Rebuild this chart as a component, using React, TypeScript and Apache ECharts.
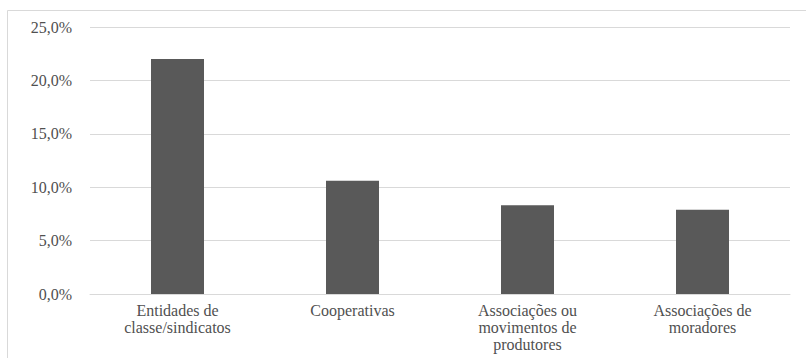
import React, { useEffect, useRef } from "react";
import * as echarts from "echarts";

const categories = [
  "Entidades de\nclasse/sindicatos",
  "Cooperativas",
  "Associações ou\nmovimentos de\nprodutores",
  "Associações de\nmoradores",
];
const values = [22.0, 10.6, 8.3, 7.9];
const yTicks = { min: 0, max: 25, interval: 5 };

export default function App() {
  const ref = useRef<HTMLDivElement>(null);
  useEffect(() => {
    const chart = echarts.init(ref.current!, null, { renderer: "svg" });
    const font = "Liberation Serif, Times New Roman, serif";
    chart.setOption({
      animation: false,
      backgroundColor: "#ffffff",
      textStyle: { fontFamily: font },
      graphic: [
        {
          type: "rect",
          shape: { x: 7.5, y: 10.5, width: 830, height: 400 },
          style: { fill: "none", stroke: "#d9d9d9", lineWidth: 1 },
          silent: true,
        },
      ],
      grid: { left: 90, right: 16, top: 27, bottom: 64 },
      xAxis: {
        type: "category",
        data: categories,
        axisLine: { show: true, lineStyle: { color: "#d9d9d9", width: 1 } },
        axisTick: { show: false },
        axisLabel: {
          interval: 0,
          margin: 8,
          color: "#505050",
          fontFamily: font,
          fontSize: 16,
          lineHeight: 17,
        },
      },
      yAxis: {
        type: "value",
        min: yTicks.min,
        max: yTicks.max,
        interval: yTicks.interval,
        axisLine: { show: false },
        axisTick: { show: false },
        splitLine: { lineStyle: { color: "#d9d9d9", width: 1 } },
        axisLabel: {
          margin: 18,
          color: "#505050",
          fontFamily: font,
          fontSize: 16,
          formatter: (v: number) => v.toFixed(1).replace(".", ",") + "%",
        },
      },
      series: [
        {
          type: "bar",
          data: values,
          barWidth: 53,
          itemStyle: { color: "#595959" },
        },
      ],
    });
    return () => chart.dispose();
  }, []);
  return <div ref={ref} style={{ width: 806, height: 358, position: "absolute", left: 0, top: 0 }} />;
}
